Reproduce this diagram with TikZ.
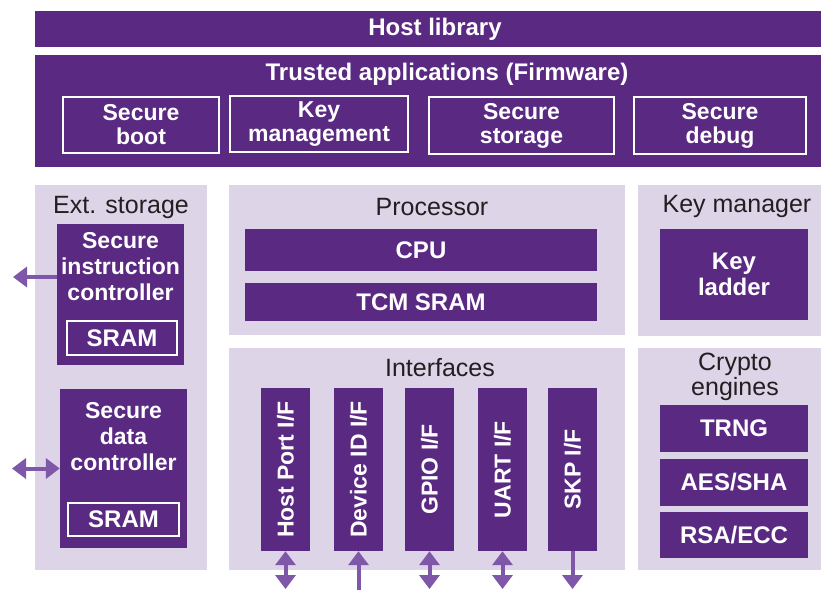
\documentclass[tikz,border=0pt]{standalone}
\usepackage{fontspec}
\setmainfont{Liberation Sans}
\usetikzlibrary{arrows.meta,positioning}
\definecolor{hsmpurple}{HTML}{5A2A82}
\definecolor{hsmlilac}{HTML}{DDD4E8}
\definecolor{hsmarrow}{HTML}{7E57A9}
\definecolor{hsmtext}{HTML}{231F20}

\begin{document}
\begin{tikzpicture}
	 [scale =1]
	\tikzstyle{bar}=[rectangle,fill=hsmpurple,inner sep=0pt]
	\tikzstyle{panel}=[rectangle,fill=hsmlilac,inner sep=0pt]
	\tikzstyle{block}=[rectangle,fill=hsmpurple,inner sep=0pt,text=white,align=center,font=\bfseries\fontsize{24}{26}\selectfont]
	\tikzstyle{framed}=[rectangle,draw=white,line width=2pt,inner sep=0pt,text=white,align=center,font=\bfseries\fontsize{23}{24}\selectfont]
	\tikzstyle{boxtext}=[inner sep=0pt,text=white,align=center,font=\bfseries\fontsize{23}{26}\selectfont]
	\tikzstyle{title}=[inner sep=0pt,text=hsmtext,align=center,font=\fontsize{25}{23}\selectfont]
	\tikzstyle{link}=[draw=hsmarrow,line width=4pt,-{Triangle[width=20pt,length=14pt]}]
	\tikzstyle{dlink}=[draw=hsmarrow,line width=4pt,{Triangle[width=20pt,length=14pt]}-{Triangle[width=20pt,length=14pt]}]
	\useasboundingbox (0pt,0pt) rectangle (821pt,-590pt);
	\node [bar,minimum width=786pt,minimum height=36pt] (host) at (428.0 pt,-29.0 pt) {};
	\node [boxtext,font=\bfseries\fontsize{24}{24}\selectfont] (hosttext) at (435.0 pt,-29.0 pt) {Host library};
	\node [bar,minimum width=786pt,minimum height=112pt] (trusted) at (428.0 pt,-111.0 pt) {};
	\node [boxtext,font=\bfseries\fontsize{24}{24}\selectfont] (trustedtext) at (447.0 pt,-74.0 pt) {Trusted applications (Firmware)};
	\node [framed,minimum width=156pt,minimum height=56pt] (sboot) at (141.0 pt,-125.0 pt) {Secure\\boot};
	\node [framed,minimum width=178pt,minimum height=56pt] (keymgmt) at (319.0 pt,-124.0 pt) {Key\\management};
	\node [framed,minimum width=185pt,minimum height=57pt] (sstorage) at (521.5 pt,-125.5 pt) {Secure\\storage};
	\node [framed,minimum width=172pt,minimum height=57pt] (sdebug) at (720.0 pt,-125.5 pt) {Secure\\debug};
	\node [panel,minimum width=172pt,minimum height=385pt] (ext) at (121.0 pt,-377.5 pt) {};
	\node [title] (exttitle) at (121.0 pt,-207.0 pt) {Ext. storage};
	\node [block,minimum width=127pt,minimum height=141pt] (sic) at (120.5 pt,-294.5 pt) {};
	\node [boxtext] (sictext) at (120.5 pt,-267.0 pt) {Secure\\instruction\\controller};
	\node [framed,minimum width=110pt,minimum height=34pt,font=\bfseries\fontsize{24}{26}\selectfont] (sicram) at (122.0 pt,-338.0 pt) {SRAM};
	\node [block,minimum width=127pt,minimum height=159pt] (sdc) at (123.5 pt,-468.5 pt) {};
	\node [boxtext] (sdctext) at (123.5 pt,-437.0 pt) {Secure\\data\\controller};
	\node [framed,minimum width=111pt,minimum height=33pt,font=\bfseries\fontsize{24}{26}\selectfont] (sdcram) at (123.5 pt,-519.5 pt) {SRAM};
	\coordinate (sicout) at (13.0 pt,-277.0 pt);
	\coordinate (sdcout) at (12.0 pt,-468.5 pt);
	\draw[link] (sic.west |- sicout) -- (sicout);
	\draw[dlink] (sdcout) -- (sdc.west);
	\node [panel,minimum width=396pt,minimum height=150pt] (proc) at (427.0 pt,-260.0 pt) {};
	\node [title] (proctitle) at (432.0 pt,-207.0 pt) {Processor};
	\node [block,minimum width=352pt,minimum height=42pt] (cpu) at (421.0 pt,-250.0 pt) {CPU};
	\node [block,minimum width=352pt,minimum height=38pt] (tcm) at (421.0 pt,-302.0 pt) {TCM SRAM};
	\node [panel,minimum width=396pt,minimum height=222pt] (intf) at (427.0 pt,-459.0 pt) {};
	\node [title] (intftitle) at (440.0 pt,-368.0 pt) {Interfaces};
	\node [block,rotate=90,minimum width=163pt,minimum height=49pt,font=\bfseries\fontsize{23}{24}\selectfont] (hostif) at (285.5 pt,-469.5 pt) {Host Port I/F};
	\node [block,rotate=90,minimum width=163pt,minimum height=49pt,font=\bfseries\fontsize{23}{24}\selectfont] (devif) at (358.5 pt,-469.5 pt) {Device ID I/F};
	\node [block,rotate=90,minimum width=163pt,minimum height=49pt,font=\bfseries\fontsize{23}{24}\selectfont] (gpioif) at (429.5 pt,-469.5 pt) {GPIO I/F};
	\node [block,rotate=90,minimum width=163pt,minimum height=49pt,font=\bfseries\fontsize{23}{24}\selectfont] (uartif) at (502.5 pt,-469.5 pt) {UART I/F};
	\node [block,rotate=90,minimum width=163pt,minimum height=49pt,font=\bfseries\fontsize{23}{24}\selectfont] (skpif) at (572.5 pt,-469.5 pt) {SKP I/F};
	\coordinate (hostend) at (285.5 pt,-589.0 pt);
	\coordinate (devend) at (358.5 pt,-590.0 pt);
	\coordinate (gpioend) at (429.5 pt,-589.0 pt);
	\coordinate (uartend) at (502.5 pt,-589.0 pt);
	\coordinate (skpend) at (572.5 pt,-589.0 pt);
	\draw[dlink] (hostif.west) -- (hostend);
	\draw[link] (devend) -- (devif.west);
	\draw[dlink] (gpioif.west) -- (gpioend);
	\draw[dlink] (uartif.west) -- (uartend);
	\draw[link] (skpif.west) -- (skpend);
	\node [panel,minimum width=183pt,minimum height=151pt] (keyman) at (729.5 pt,-260.5 pt) {};
	\node [title] (keymantitle) at (737.0 pt,-206.0 pt) {Key manager};
	\node [block,minimum width=148pt,minimum height=91pt] (ladder) at (734.0 pt,-274.5 pt) {Key\\ladder};
	\node [panel,minimum width=183pt,minimum height=222pt] (crypto) at (729.5 pt,-459.0 pt) {};
	\node [title] (cryptotitle) at (735.0 pt,-377.0 pt) {Crypto\\engines};
	\node [block,minimum width=148pt,minimum height=47pt] (trng) at (734.0 pt,-428.5 pt) {TRNG};
	\node [block,minimum width=148pt,minimum height=47pt] (aes) at (734.0 pt,-482.5 pt) {AES/SHA};
	\node [block,minimum width=148pt,minimum height=46pt] (rsa) at (734.0 pt,-535.0 pt) {RSA/ECC};
	\end{tikzpicture}
\end{document}
